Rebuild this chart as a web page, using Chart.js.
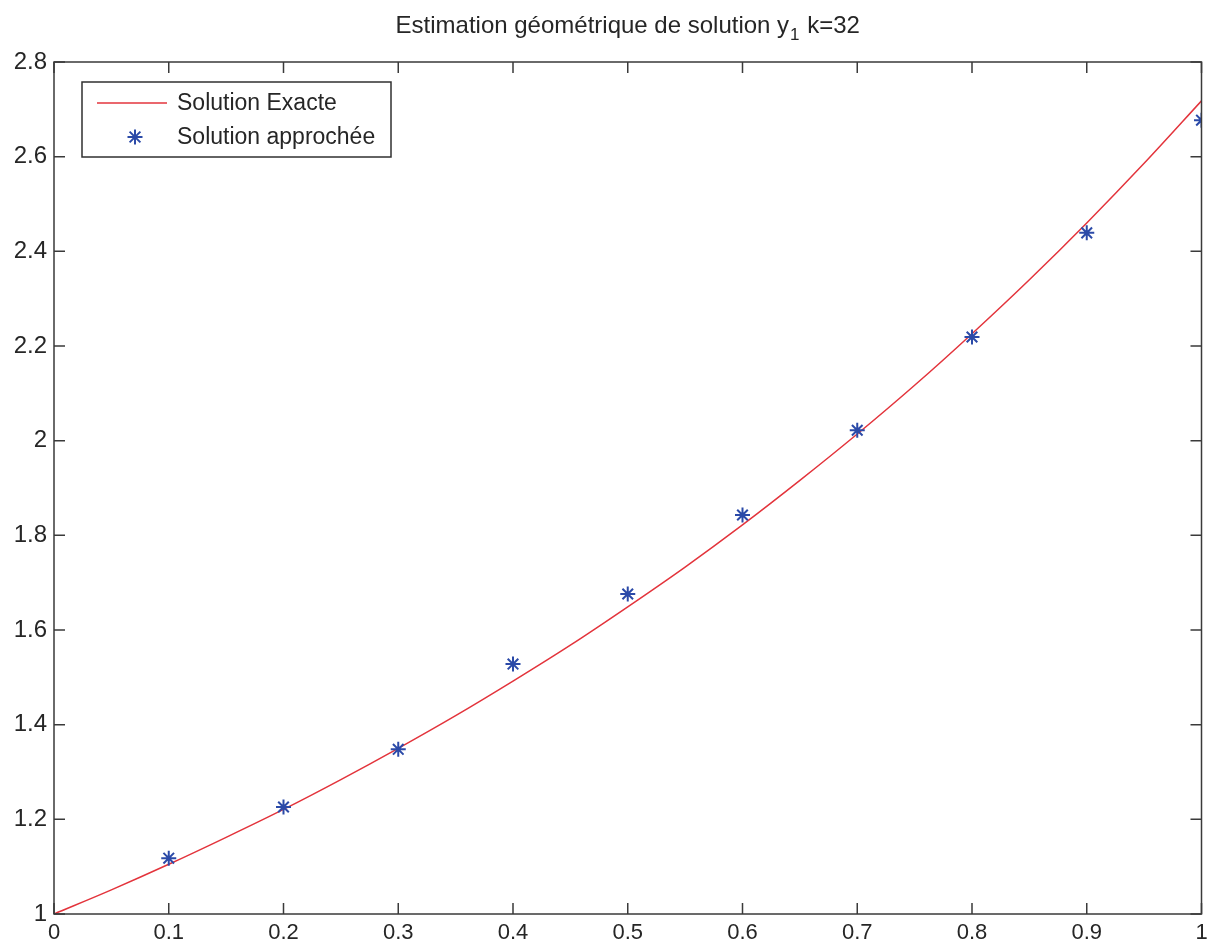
<!DOCTYPE html>
<html>
<head>
<meta charset="utf-8">
<script src="https://cdn.jsdelivr.net/npm/chart.js@4"></script>
<style>
html,body{margin:0;padding:0;background:#fff;}
#wrap{width:1211px;height:949px;}
</style>
</head>
<body>
<div id="wrap"><canvas id="c" width="1211" height="949"></canvas></div>
<script>
// ---- data ----
const exactX = [0,0.05,0.1,0.15,0.2,0.25,0.3,0.35,0.4,0.45,0.5,0.55,0.6,0.65,0.7,0.75,0.8,0.85,0.9,0.95,1.0];
const exactY = [1.000,1.051,1.105,1.162,1.221,1.284,1.350,1.419,1.492,1.568,1.649,1.733,1.822,1.916,2.014,2.117,2.226,2.340,2.460,2.586,2.718];
const approxX = [0.1,0.2,0.3,0.4,0.5,0.6,0.7,0.8,0.9,1.0];
const approxY = [1.118,1.226,1.348,1.528,1.676,1.843,2.022,2.219,2.439,2.677];
const xTickLabels = ['0','0.1','0.2','0.3','0.4','0.5','0.6','0.7','0.8','0.9','1'];
const yTickLabels = ['1','1.2','1.4','1.6','1.8','2','2.2','2.4','2.6','2.8'];
const seriesLabels = ['Solution Exacte','Solution approchée'];
const titleMain = 'Estimation géométrique de solution y';
const titleSub = '1';
const titleTail = ' k=32';

const FONT = '"Liberation Sans", Arial, sans-serif';
const TXT = '#262626';
const AX = '#3a3a3a';
const RED = '#e3343c';
const BLUE = '#2b4aa8';

const boxPlugin = {
  id: 'matlabBox',
  afterDraw(chart) {
    const ctx = chart.ctx;
    const a = chart.chartArea;
    const xs = chart.scales.x, ys = chart.scales.y;
    ctx.save();
    ctx.strokeStyle = AX;
    ctx.lineWidth = 1.5;
    ctx.strokeRect(a.left, a.top, a.right - a.left, a.bottom - a.top);
    const L = 11;
    ctx.beginPath();
    xs.ticks.forEach(t => {
      const px = xs.getPixelForValue(t.value);
      ctx.moveTo(px, a.bottom); ctx.lineTo(px, a.bottom - L);
      ctx.moveTo(px, a.top); ctx.lineTo(px, a.top + L);
    });
    ys.ticks.forEach(t => {
      const py = ys.getPixelForValue(t.value);
      ctx.moveTo(a.left, py); ctx.lineTo(a.left + L, py);
      ctx.moveTo(a.right, py); ctx.lineTo(a.right - L, py);
    });
    ctx.stroke();

    // title
    ctx.fillStyle = TXT;
    ctx.textBaseline = 'alphabetic';
    ctx.font = '24px ' + FONT;
    const w1 = ctx.measureText(titleMain).width;
    const w3 = ctx.measureText(titleTail).width;
    ctx.font = '17px ' + FONT;
    const w2 = ctx.measureText(titleSub).width;
    const total = w1 + w2 + w3 + 2;
    let x0 = (a.left + a.right) / 2 - total / 2;
    const base = 33;
    ctx.textAlign = 'left';
    ctx.font = '24px ' + FONT;
    ctx.fillText(titleMain, x0, base);
    ctx.font = '17px ' + FONT;
    ctx.fillText(titleSub, x0 + w1 + 1, base + 7);
    ctx.font = '24px ' + FONT;
    ctx.fillText(titleTail, x0 + w1 + w2 + 2, base);

    // legend
    const lx = 82, ly = 82, lw = 309, lh = 75;
    ctx.fillStyle = '#fff';
    ctx.fillRect(lx, ly, lw, lh);
    ctx.strokeStyle = '#303030';
    ctx.lineWidth = 1.5;
    ctx.strokeRect(lx, ly, lw, lh);
    ctx.strokeStyle = RED;
    ctx.lineWidth = 1.5;
    ctx.beginPath();
    ctx.moveTo(97, 103); ctx.lineTo(167, 103);
    ctx.stroke();
    drawStar(ctx, 135, 137, 7.5);
    ctx.fillStyle = TXT;
    ctx.font = '23px ' + FONT;
    ctx.textBaseline = 'middle';
    ctx.fillText(chart.data.datasets[0].label, 177, 104);
    ctx.fillText(chart.data.datasets[1].label, 177, 138);
    ctx.restore();
  }
};
function drawStar(ctx, x, y, r) {
  ctx.save();
  ctx.strokeStyle = BLUE;
  ctx.lineWidth = 2;
  ctx.beginPath();
  ctx.moveTo(x - r, y); ctx.lineTo(x + r, y);
  ctx.moveTo(x, y - r); ctx.lineTo(x, y + r);
  const d = r * 0.72;
  ctx.moveTo(x - d, y - d); ctx.lineTo(x + d, y + d);
  ctx.moveTo(x - d, y + d); ctx.lineTo(x + d, y - d);
  ctx.stroke();
  ctx.restore();
}

new Chart(document.getElementById('c'), {
  type: 'scatter',
  data: {
    datasets: [
      {
        label: seriesLabels[0],
        data: exactX.map((x, i) => ({x: x, y: exactY[i]})),
        showLine: true,
        borderColor: RED,
        borderWidth: 1.5,
        pointRadius: 0,
        cubicInterpolationMode: 'monotone',
        order: 2
      },
      {
        label: seriesLabels[1],
        data: approxX.map((x, i) => ({x: x, y: approxY[i]})),
        showLine: false,
        pointStyle: 'star',
        pointRadius: 7.5,
        borderColor: BLUE,
        backgroundColor: BLUE,
        borderWidth: 2,
        order: 1
      }
    ]
  },
  options: {
    responsive: false,
    animation: false,
    devicePixelRatio: 1,
    layout: { padding: { left: 0, top: 62, right: 7, bottom: 0 } },
    plugins: { legend: { display: false }, title: { display: false }, tooltip: { enabled: false } },
    scales: {
      x: {
        type: 'linear', min: 0, max: 1,
        grid: { display: false, drawTicks: false },
        border: { display: false },
        ticks: {
          stepSize: 0.1, padding: 6, color: TXT,
          font: { family: FONT, size: 22 },
          maxRotation: 0, autoSkip: false,
          callback: (v, i) => xTickLabels[i]
        },
        afterFit: s => { s.height = 35; s.paddingLeft = 0; s.paddingRight = 0; }
      },
      y: {
        type: 'linear', min: 1, max: 2.8,
        grid: { display: false, drawTicks: false },
        border: { display: false },
        ticks: {
          stepSize: 0.2, padding: 7, color: TXT,
          font: { family: FONT, size: 24 },
          autoSkip: false,
          callback: (v, i) => yTickLabels[i]
        },
        afterFit: s => { s.width = 54; s.paddingTop = 0; s.paddingBottom = 0; }
      }
    }
  },
  plugins: [boxPlugin]
});
</script>
</body>
</html>
